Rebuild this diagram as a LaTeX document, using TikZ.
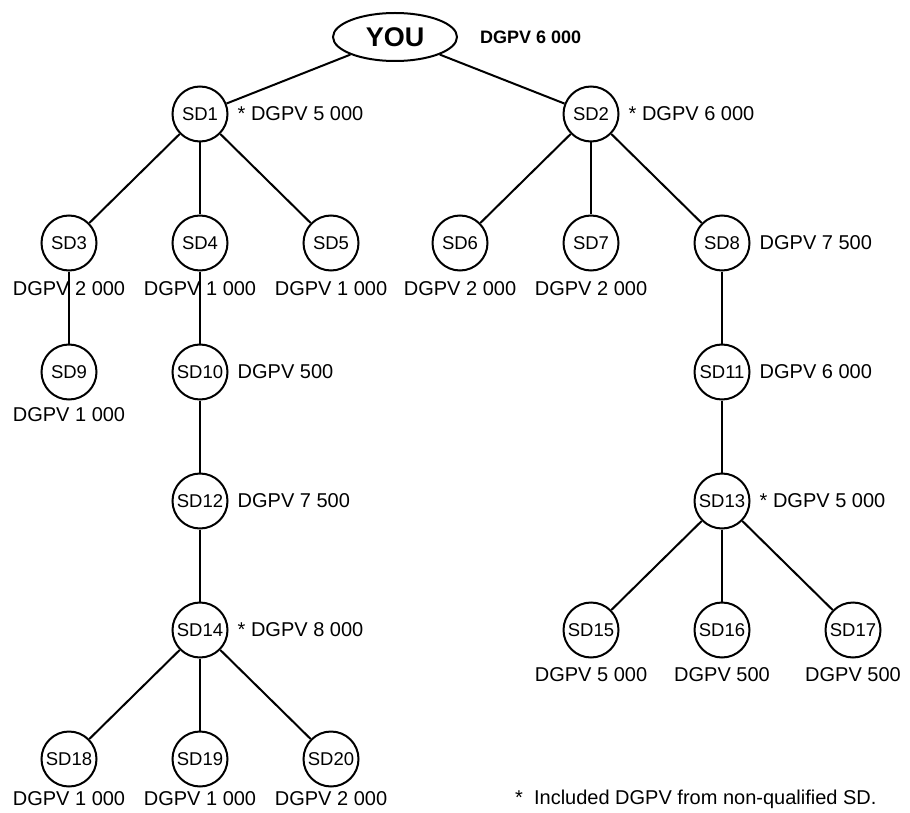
\documentclass[tikz,border=0pt]{standalone}
\usepackage{fontspec}
\setmainfont{Liberation Sans}
\usetikzlibrary{positioning,shapes.geometric}

\begin{document}
\begin{tikzpicture}[x=1pt, y=-1pt, on grid, node distance=129pt and 131pt,
    sd/.style={circle, draw, line width=2pt, minimum size=55pt, inner sep=0pt,
      font=\fontsize{18.5}{21}\selectfont},
    pv/.style={inner sep=0pt, font=\fontsize{20}{24}\selectfont},
    side/.style={pv, on grid=false},
    tie/.style={line width=2pt}]
  \useasboundingbox (0,0) rectangle (910,813);

  \node[ellipse, draw, line width=2pt, minimum width=124pt, minimum height=48pt,
    inner sep=0pt, font=\fontsize{27}{30}\selectfont\bfseries] (you) at (395,37) {YOU};
  \node[side, font=\fontsize{18}{21}\selectfont\bfseries, right=22pt of you] (pvyou) {DGPV 6 000};

  \node[sd] (sd1) at (200,114) {SD1};
  \node[sd] (sd2) at (591,114) {SD2};
  \node[sd] (sd3) [below left=of sd1] {SD3};
  \node[sd] (sd4) [below=of sd1] {SD4};
  \node[sd] (sd5) [below right=of sd1] {SD5};
  \node[sd] (sd6) [below left=of sd2] {SD6};
  \node[sd] (sd7) [below=of sd2] {SD7};
  \node[sd] (sd8) [below right=of sd2] {SD8};
  \node[sd] (sd9) [below=of sd3] {SD9};
  \node[sd] (sd10) [below=of sd4] {SD10};
  \node[sd] (sd11) [below=of sd8] {SD11};
  \node[sd] (sd12) [below=of sd10] {SD12};
  \node[sd] (sd13) [below=of sd11] {SD13};
  \node[sd] (sd14) [below=of sd12] {SD14};
  \node[sd] (sd15) [below left=of sd13] {SD15};
  \node[sd] (sd16) [below=of sd13] {SD16};
  \node[sd] (sd17) [below right=of sd13] {SD17};
  \node[sd] (sd18) [below left=of sd14] {SD18};
  \node[sd] (sd19) [below=of sd14] {SD19};
  \node[sd] (sd20) [below right=of sd14] {SD20};

  % values beside the circles
  \node[side, right=9pt of sd1] (pv1) {* DGPV 5 000};
  \node[side, right=9pt of sd2] (pv2) {* DGPV 6 000};
  \node[side, right=9pt of sd8] (pv8) {DGPV 7 500};
  \node[side, right=9pt of sd10] (pv10) {DGPV 500};
  \node[side, right=9pt of sd11] (pv11) {DGPV 6 000};
  \node[side, right=9pt of sd12] (pv12) {DGPV 7 500};
  \node[side, right=9pt of sd13] (pv13) {* DGPV 5 000};
  \node[side, right=9pt of sd14] (pv14) {* DGPV 8 000};

  % values under the circles
  \node[pv, below=46pt of sd3] (pv3) {DGPV 2 000};
  \node[pv, below=46pt of sd4] (pv4) {DGPV 1 000};
  \node[pv, below=46pt of sd5] (pv5) {DGPV 1 000};
  \node[pv, below=46pt of sd6] (pv6) {DGPV 2 000};
  \node[pv, below=46pt of sd7] (pv7) {DGPV 2 000};
  \node[pv, below=43pt of sd9] (pv9) {DGPV 1 000};
  \node[pv, below=45pt of sd15] (pv15) {DGPV 5 000};
  \node[pv, below=45pt of sd16] (pv16) {DGPV 500};
  \node[pv, below=45pt of sd17] (pv17) {DGPV 500};
  \node[pv, below=40pt of sd18] (pv18) {DGPV 1 000};
  \node[pv, below=40pt of sd19] (pv19) {DGPV 1 000};
  \node[pv, below=40pt of sd20] (pv20) {DGPV 2 000};

  \node[pv, anchor=west] (note) at (515,799) {*\ \ Included DGPV from non-qualified SD.};

  \path[tie] (you) edge (sd1) (you) edge (sd2)
             (sd1) edge (sd3) (sd1) edge (sd4) (sd1) edge (sd5)
             (sd2) edge (sd6) (sd2) edge (sd7) (sd2) edge (sd8)
             (sd3) edge (sd9) (sd4) edge (sd10) (sd8) edge (sd11)
             (sd10) edge (sd12) (sd11) edge (sd13) (sd12) edge (sd14)
             (sd13) edge (sd15) (sd13) edge (sd16) (sd13) edge (sd17)
             (sd14) edge (sd18) (sd14) edge (sd19) (sd14) edge (sd20);
\end{tikzpicture}
\end{document}
